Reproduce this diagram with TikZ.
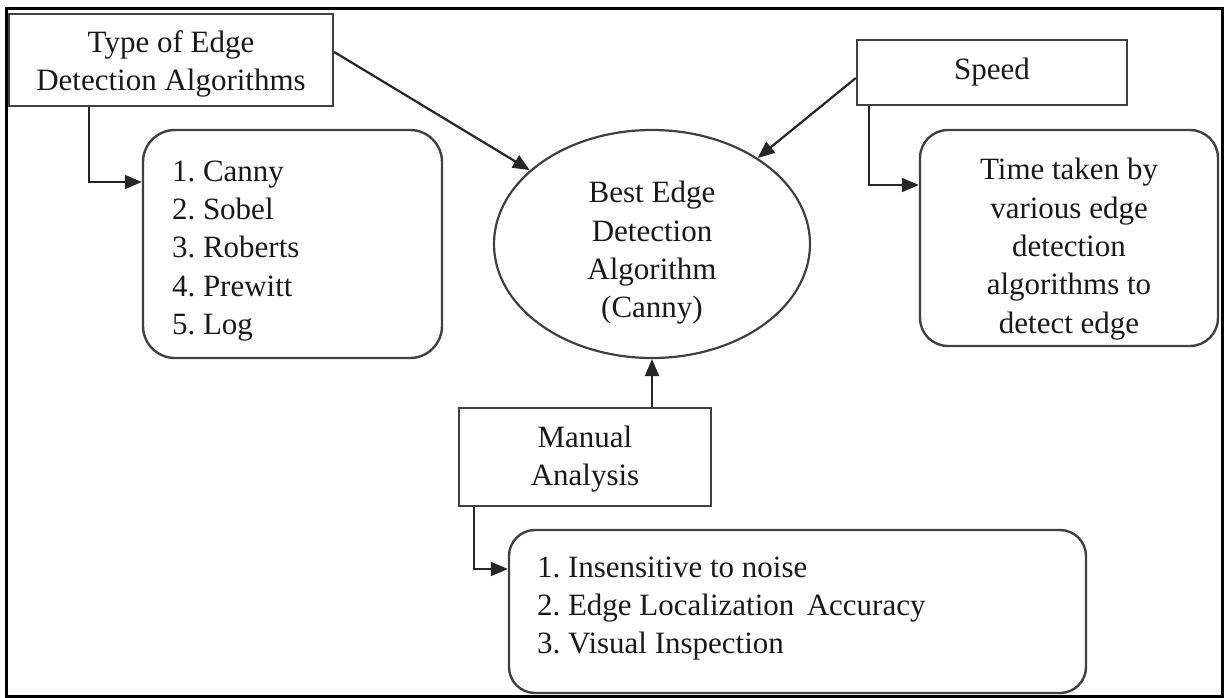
\documentclass[tikz,border=0pt]{standalone}
\usepackage{fontspec}
\setmainfont{Liberation Serif}
\usetikzlibrary{arrows.meta,shapes.geometric}
\frenchspacing
\begin{document}
\begin{tikzpicture}[x=1pt,y=-1pt,
  txt/.style={font=\fontsize{31}{38.3}\selectfont, text=black!90, inner sep=0pt, align=center},
  txtl/.style={txt, align=left, anchor=west},
  box/.style={draw=black!75, line width=2.4pt, rectangle, inner sep=0pt},
  roundbox/.style={box, rounded corners=26pt},
  oval/.style={draw=black!75, line width=2.2pt, ellipse, inner sep=0pt},
  arr/.style={draw=black!85, line width=2.2pt, -{Triangle[length=17pt,width=14pt]}}
]
\useasboundingbox (0,0) rectangle (1225,698);
% outer frame
\draw[line width=3pt] (6,9) rectangle (1222,696);

% shapes
\node[box, minimum width=324pt, minimum height=92pt] (type) at (171,60) {};
\node[roundbox, rounded corners=32pt, minimum width=299pt, minimum height=228pt] (algos) at (292.5,244) {};
\node[oval, minimum width=316pt, minimum height=228pt] (best) at (652,244) {};
\node[box, minimum width=270pt, minimum height=65pt] (speed) at (992,72.5) {};
\node[roundbox, rounded corners=28pt, minimum width=298pt, minimum height=216pt] (time) at (1069,238) {};
\node[box, minimum width=252pt, minimum height=98pt] (manual) at (585,457) {};
\node[roundbox, minimum width=577pt, minimum height=163pt] (criteria) at (797.5,611.5) {};

% texts inside the shapes
\node[txt] (type-t) at ([yshift=-4pt]type.center) {Type of Edge\\Detection Algorithms};
\node[txtl] (algos-t) at ([xshift=30pt,yshift=-7pt]algos.west)
  {1. Canny\\2. Sobel\\3. Roberts\\4. Prewitt\\5. Log};
\node[txt] (best-t) at ([yshift=-9pt]best.center) {Best Edge\\Detection\\Algorithm\\(Canny)};
\node[txt] (speed-t) at (speed.center) {Speed};
\node[txt] (time-t) at ([yshift=-11pt]time.center)
  {Time taken by\\various edge\\detection\\algorithms to\\detect edge};
\node[txt] (manual-t) at ([yshift=-2pt]manual.center) {Manual\\Analysis};
\node[txtl] (criteria-t) at ([xshift=29pt,yshift=3pt]criteria.west)
  {1. Insensitive to noise\\2. Edge Localization\hspace{0.15em} Accuracy\\3. Visual Inspection};

% elbow points of the bent connectors
\coordinate (k1) at (89,182);
\coordinate (k2) at (869,185);
\coordinate (k3) at (474,569);

% connectors
\draw[arr] (type.south -| k1) |- (algos.west |- k1);
\draw[arr] ([yshift=8pt]type.east) -- (best);
\draw[arr] ([yshift=-5.5pt]speed.west) -- (best);
\draw[arr] (manual.north -| best.south) -- (best.south);
\draw[arr] (speed.south -| k2) |- (time.west |- k2);
\draw[arr] (manual.south -| k3) |- (criteria.west |- k3);
\end{tikzpicture}
\end{document}
